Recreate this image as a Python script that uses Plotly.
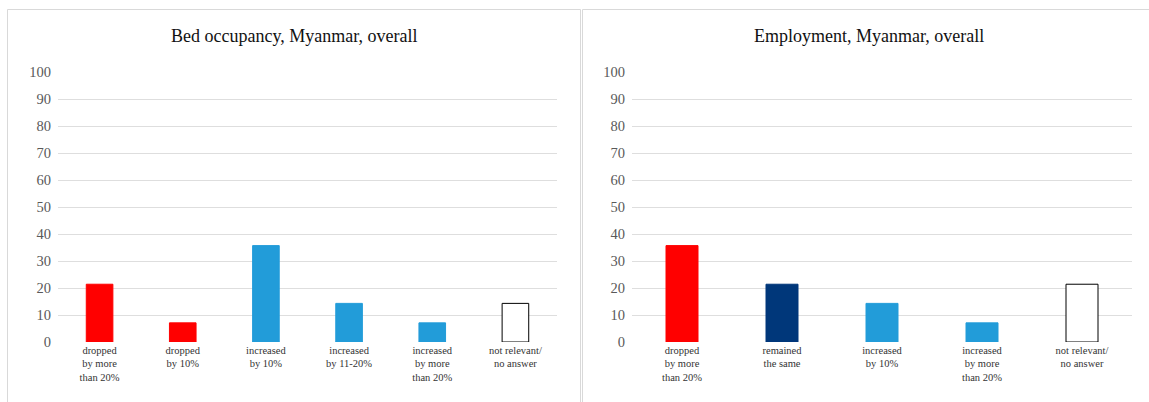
import plotly.graph_objects as go

left_title = "Bed occupancy, Myanmar, overall"
left_cats = ["dropped<br>by more<br>than 20%", "dropped<br>by 10%", "increased<br>by 10%",
             "increased<br>by 11-20%", "increased<br>by more<br>than 20%", "not relevant/<br>no answer"]
left_vals = [21.4, 7.1, 35.7, 14.3, 7.1, 14.3]
left_colors = ["#ff0000", "#ff0000", "#229cd9", "#229cd9", "#229cd9", "#ffffff"]

right_title = "Employment, Myanmar, overall"
right_cats = ["dropped<br>by more<br>than 20%", "remained<br>the same", "increased<br>by 10%",
              "increased<br>by more<br>than 20%", "not relevant/<br>no answer"]
right_vals = [35.7, 21.4, 14.3, 7.1, 21.4]
right_colors = ["#ff0000", "#00377a", "#229cd9", "#229cd9", "#ffffff"]

yticks = [0, 10, 20, 30, 40, 50, 60, 70, 80, 90, 100]

W, H = 1149, 402
FONT = "Liberation Serif"

def line_colors(cols):
    return ["#000000" if c == "#ffffff" else c for c in cols]

fig = go.Figure()
fig.add_trace(go.Bar(x=left_cats, y=left_vals, marker=dict(color=left_colors,
                     line=dict(color=line_colors(left_colors), width=1)),
                     width=0.32, xaxis="x", yaxis="y", showlegend=False, hoverinfo="y"))
fig.add_trace(go.Bar(x=right_cats, y=right_vals, marker=dict(color=right_colors,
                     line=dict(color=line_colors(right_colors), width=1)),
                     width=0.32, xaxis="x2", yaxis="y2", showlegend=False, hoverinfo="y"))

ydom = [60 / H, 330 / H]
axis_common = dict(showgrid=False, zeroline=False, showline=False, ticks="", automargin=False,
                   tickfont=dict(family=FONT, size=10.5, color="#333333"), fixedrange=True)
yaxis_common = dict(range=[0, 100], tickvals=yticks, showgrid=True, gridcolor="#dedede",
                    gridwidth=1, zeroline=False, showline=False, ticks="", automargin=False,
                    ticklabelstandoff=6,
                    tickfont=dict(family=FONT, size=14.5, color="#595959"), fixedrange=True)

fig.update_layout(
    width=W, height=H, margin=dict(l=0, r=0, t=0, b=0, autoexpand=False),
    paper_bgcolor="white", plot_bgcolor="white",
    xaxis=dict(domain=[58 / W, 557 / W], anchor="y", **axis_common),
    yaxis=dict(domain=ydom, anchor="x", **yaxis_common),
    xaxis2=dict(domain=[632 / W, 1132 / W], anchor="y2", **axis_common),
    yaxis2=dict(domain=ydom, anchor="x2", **yaxis_common),
    shapes=[
        dict(type="rect", xref="paper", yref="paper", x0=7.5 / W, x1=580.5 / W,
             y0=-0.05, y1=(H - 9.5) / H, line=dict(color="#d9d9d9", width=1)),
        dict(type="rect", xref="paper", yref="paper", x0=582.5 / W, x1=1.05,
             y0=-0.05, y1=(H - 9.5) / H, line=dict(color="#d9d9d9", width=1)),
    ],
    annotations=[
        dict(text=left_title, xref="paper", yref="paper", x=294 / W, y=(H - 36) / H,
             showarrow=False, xanchor="center", yanchor="middle",
             font=dict(family=FONT, size=18, color="#111111")),
        dict(text=right_title, xref="paper", yref="paper", x=869 / W, y=(H - 36) / H,
             showarrow=False, xanchor="center", yanchor="middle",
             font=dict(family=FONT, size=18, color="#111111")),
    ],
)

fig.write_html("out.html")
